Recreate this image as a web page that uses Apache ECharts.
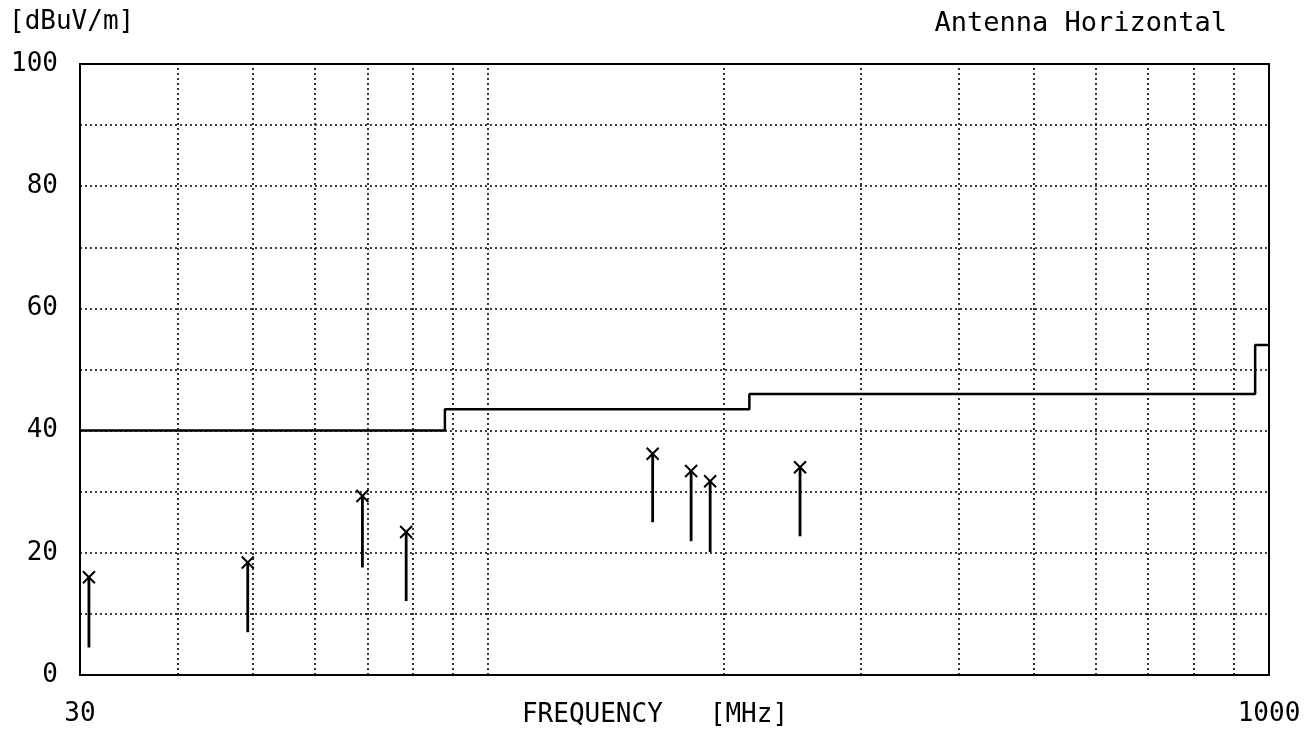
<!DOCTYPE html>
<html>
<head>
<meta charset="utf-8">
<script src="https://cdn.jsdelivr.net/npm/echarts@6/dist/echarts.min.js"></script>
<style>html,body{margin:0;padding:0;background:#fff;}#c{width:1312px;height:736px;}</style>
</head>
<body>
<div id="c"></div>
<script>
// Data
const freqGrid = [40, 50, 60, 70, 80, 90, 100, 200, 300, 400, 500, 600, 700, 800, 900];
const limitFreq = [30, 88, 88, 216, 216, 960, 960, 1000];
const limitLevel = [40, 40, 43.5, 43.5, 46, 46, 54, 54];
const peakFreq = [30.8, 49.2, 69.0, 78.5, 162.4, 181.9, 192.4, 250.8];
const peakLevel = [16.0, 18.4, 29.3, 23.4, 36.2, 33.4, 31.7, 34.0];
const baseLevel = [4.5, 7.0, 17.6, 12.1, 25.0, 21.9, 20.1, 22.7];
const yTickLabels = [0, 20, 40, 60, 80, 100];
const xTickLabels = [30, 1000];

const FONT = '"DejaVu Sans Mono", "Liberation Mono", monospace';
const chart = echarts.init(document.getElementById('c'), null, {renderer: 'canvas'});

const limitData = limitFreq.map((f, i) => [f, limitLevel[i]]);
const peakData = peakFreq.map((f, i) => [f, peakLevel[i], baseLevel[i]]);

chart.setOption({
  animation: false,
  backgroundColor: '#fff',
  grid: {left: 80, top: 64, width: 1189, height: 611, show: true, borderColor: '#000', borderWidth: 2, backgroundColor: 'transparent'},
  graphic: [
    {type: 'text', x: 9, y: 22, style: {text: '[dBuV/m]', font: '26px ' + FONT, fill: '#000', align: 'left', verticalAlign: 'middle'}},
    {type: 'text', x: 1227, y: 24, style: {text: 'Antenna Horizontal', font: '27px ' + FONT, fill: '#000', align: 'right', verticalAlign: 'middle'}},
    {type: 'text', x: 655, y: 715, style: {text: 'FREQUENCY   [MHz]', font: '26px ' + FONT, fill: '#000', align: 'center', verticalAlign: 'middle'}}
  ],
  xAxis: {
    type: 'log', logBase: 10, min: 30, max: 1000,
    axisLine: {show: true, lineStyle: {color: '#000', width: 2}},
    axisTick: {show: false},
    splitLine: {show: false},
    axisLabel: {
      show: true, showMinLabel: true, showMaxLabel: true, margin: 26,
      color: '#000', fontSize: 26, fontFamily: FONT,
      customValues: xTickLabels,
      formatter: function (v) {
        for (const t of xTickLabels) { if (Math.abs(v - t) / t < 1e-6) return String(t); }
        return '';
      }
    }
  },
  yAxis: {
    type: 'value', min: 0, max: 100, interval: 10,
    axisLine: {show: true, lineStyle: {color: '#000', width: 2}},
    axisTick: {show: false},
    splitLine: {show: true, lineStyle: {color: '#000', width: 1.6, type: [2, 3]}},
    axisLabel: {
      margin: 22, color: '#000', fontSize: 26, fontFamily: FONT,
      formatter: function (v) { return yTickLabels.indexOf(v) >= 0 ? String(v) : ''; }
    }
  },
  series: [
    {
      type: 'line', data: limitData, symbol: 'none', silent: true,
      lineStyle: {color: '#000', width: 2.5},
      markLine: {
        silent: true, symbol: 'none', label: {show: false},
        lineStyle: {color: '#000', width: 1.6, type: [2, 3]},
        data: freqGrid.map(v => ({xAxis: v}))
      },
      z: 3
    },
    {
      type: 'custom', data: peakData, silent: true, z: 4,
      encode: {x: 0, y: [1, 2]},
      renderItem: function (params, api) {
        const f = api.value(0), p = api.value(1), b = api.value(2);
        const top = api.coord([f, p]);
        const bot = api.coord([f, b]);
        const s = 6;
        return {
          type: 'group',
          children: [
            {type: 'line', shape: {x1: top[0], y1: top[1], x2: bot[0], y2: bot[1]}, style: {stroke: '#000', lineWidth: 2.8}},
            {type: 'line', shape: {x1: top[0] - s, y1: top[1] - s, x2: top[0] + s, y2: top[1] + s}, style: {stroke: '#000', lineWidth: 2}},
            {type: 'line', shape: {x1: top[0] - s, y1: top[1] + s, x2: top[0] + s, y2: top[1] - s}, style: {stroke: '#000', lineWidth: 2}}
          ]
        };
      }
    }
  ]
});
</script>
</body>
</html>
